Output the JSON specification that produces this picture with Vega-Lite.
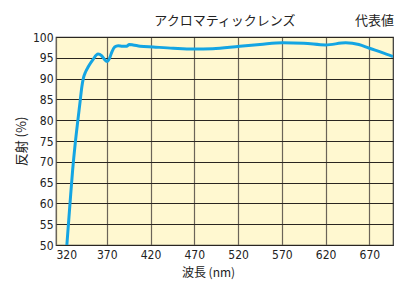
{
  "$schema": "https://vega.github.io/schema/vega-lite/v6.json",
  "width": 337,
  "height": 208,
  "autosize": "none",
  "padding": {"left": 56, "top": 37, "right": 2, "bottom": 39},
  "background": "white",
  "config": {
    "view": {"fill": "#FFF8D0", "stroke": "#333", "strokeWidth": 1.2},
    "font": "DejaVu Sans Condensed, Noto Sans CJK JP, sans-serif"
  },
  "data": {"values": [
    {"wl": 324.4, "r": 50}, {"wl": 328, "r": 60}, {"wl": 331, "r": 68}, {"wl": 334, "r": 74.5},
    {"wl": 337, "r": 80}, {"wl": 339.5, "r": 84.4}, {"wl": 341.5, "r": 88}, {"wl": 343.3, "r": 90.1},
    {"wl": 346, "r": 91.7}, {"wl": 349, "r": 92.9}, {"wl": 354, "r": 94.5}, {"wl": 360, "r": 95.9},
    {"wl": 364, "r": 95.5}, {"wl": 367, "r": 94.7}, {"wl": 370.5, "r": 94.1}, {"wl": 373, "r": 94.8},
    {"wl": 376, "r": 96.5}, {"wl": 379, "r": 97.6}, {"wl": 383, "r": 97.9}, {"wl": 388, "r": 97.8},
    {"wl": 392.7, "r": 97.8}, {"wl": 395.7, "r": 98.2}, {"wl": 400, "r": 98.1}, {"wl": 408, "r": 97.8},
    {"wl": 423, "r": 97.6}, {"wl": 446, "r": 97.3}, {"wl": 469, "r": 97.1}, {"wl": 491, "r": 97.2},
    {"wl": 522, "r": 97.8}, {"wl": 545, "r": 98.2}, {"wl": 571, "r": 98.6}, {"wl": 595, "r": 98.5},
    {"wl": 620, "r": 98.1}, {"wl": 643, "r": 98.6}, {"wl": 658, "r": 98.2}, {"wl": 670, "r": 97.3},
    {"wl": 684, "r": 96.3}, {"wl": 697, "r": 95.3}
  ]},
  "encoding": {
    "x": {"field": "wl", "type": "quantitative",
          "scale": {"domain": [312, 697], "nice": false, "zero": false},
          "axis": {"values": [312, 370, 420, 470, 520, 570, 620, 670],
                   "labelExpr": "datum.value < 320 ? '320' : datum.label",
                   "labelOverlap": false,
                   "title": "波長 (nm)", "titleFont": "Noto Sans CJK JP", "titleFontWeight": "normal", "titleFontSize": 12, "titleColor": "#222",
                   "titleX": 152, "titleAlign": "center", "titlePadding": 7,
                   "labelFontSize": 12, "labelColor": "#222", "labelPadding": 4,
                   "ticks": false, "domain": false,
                   "grid": true, "gridColor": "#6b6458", "gridOpacity": 1, "gridWidth": 1.2}},
    "y": {"field": "r", "type": "quantitative",
          "scale": {"domain": [50, 100], "nice": false, "zero": false},
          "axis": {"values": [50, 55, 60, 65, 70, 75, 80, 85, 90, 95, 100],
                   "labelOverlap": false,
                   "title": "反射 (%)", "titleFont": "Noto Sans CJK JP", "titleFontWeight": "normal", "titleFontSize": 13, "titleColor": "#222", "titlePadding": 4,
                   "labelFontSize": 12, "labelColor": "#222", "labelPadding": 3,
                   "ticks": false, "domain": false,
                   "grid": true, "gridColor": "#2a2620", "gridOpacity": 1, "gridWidth": 1.2}}
  },
  "layer": [
    {
      "mark": {"type": "line", "color": "#14A5E3", "strokeWidth": 3, "interpolate": "monotone", "clip": true}
    },
    {
      "data": {"values": [
        {"wl": 697, "r": 100, "t": "代表値"}
      ]},
      "mark": {"type": "text", "align": "right", "baseline": "alphabetic", "dy": -12, "dx": 1, "fontSize": 13, "font": "Noto Sans CJK JP", "color": "#222"},
      "encoding": {"text": {"field": "t"}}
    },
    {
      "data": {"values": [
        {"wl": 505, "r": 100, "t": "アクロマティックレンズ"}
      ]},
      "mark": {"type": "text", "align": "center", "baseline": "alphabetic", "dy": -12, "fontSize": 13, "font": "Noto Sans CJK JP", "color": "#222"},
      "encoding": {"text": {"field": "t"}}
    }
  ]
}
